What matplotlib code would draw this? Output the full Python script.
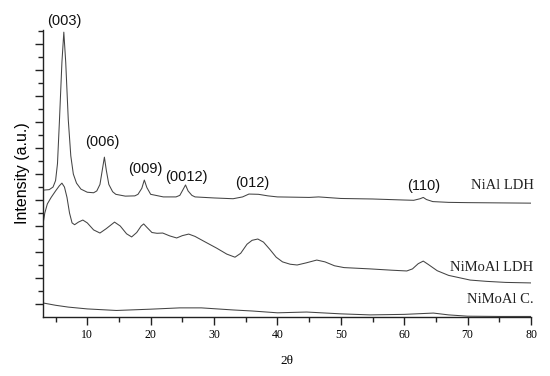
import matplotlib
matplotlib.use('Agg')
import matplotlib.pyplot as plt
from matplotlib.ticker import MultipleLocator

# 2theta / intensity (a.u.)
nial_x = [3.0, 4.0, 4.6, 5.0, 5.3, 5.6, 6.0, 6.3, 6.6, 7.0, 7.4, 7.8, 8.3, 9.0, 10.0, 11.0,
          11.5, 12.0, 12.4, 12.7, 13.0, 13.4, 14.0, 14.5, 16.0, 17.5, 18.0, 18.6, 19.0,
          19.4, 20.0, 22.0, 24.0, 24.6, 25.1, 25.5, 25.9, 26.5, 27.0, 30.0, 33.0, 34.5,
          35.5, 37.0, 38.5, 40.0, 45.0, 46.5, 50.0, 55.0, 60.0, 61.5, 62.5, 63.0, 63.5,
          64.5, 67.0, 70.0, 80.0]
nial_y = [4.88, 4.90, 5.0, 5.25, 5.9, 7.5, 9.8, 10.96, 9.8, 7.6, 6.2, 5.5, 5.15, 4.92, 4.8, 4.78,
          4.85, 5.1, 5.7, 6.15, 5.65, 5.1, 4.82, 4.72, 4.65, 4.66, 4.72, 4.95, 5.27,
          4.98, 4.72, 4.62, 4.62, 4.68, 4.9, 5.08, 4.85, 4.68, 4.62, 4.58, 4.55, 4.62,
          4.73, 4.72, 4.66, 4.62, 4.6, 4.62, 4.56, 4.54, 4.5, 4.49, 4.55, 4.6, 4.52,
          4.44, 4.41, 4.4, 4.38]

nimoal_x = [3.0, 3.3, 3.7, 4.3, 5.0, 5.6, 6.0, 6.4, 6.8, 7.2, 7.6, 8.0, 8.6, 9.3, 10.0,
            11.0, 12.0, 13.0, 14.3, 15.2, 16.2, 17.0, 17.8, 18.5, 18.9, 19.4, 20.2, 21.0,
            21.9, 23.0, 24.1, 25.0, 26.0, 27.0, 28.5, 30.4, 32.0, 33.3, 34.2, 35.2, 36.0,
            36.9, 37.8, 38.8, 39.8, 40.8, 42.0, 43.1, 44.5, 46.2, 47.5, 49.0, 50.5, 54.6,
            58.0, 60.4, 61.3, 62.2, 63.0, 63.8, 65.2, 67.0, 70.4, 73.0, 76.0, 80.0]
nimoal_y = [3.55, 4.0, 4.35, 4.6, 4.85, 5.05, 5.15, 5.0, 4.6, 4.0, 3.62, 3.55, 3.65, 3.73, 3.62,
            3.35, 3.23, 3.4, 3.65, 3.5, 3.2, 3.08, 3.25, 3.5, 3.58, 3.45, 3.25, 3.22,
            3.23, 3.12, 3.04, 3.13, 3.19, 3.1, 2.9, 2.65, 2.42, 2.3, 2.45, 2.8, 2.95,
            3.0, 2.88, 2.6, 2.3, 2.12, 2.03, 2.0, 2.08, 2.19, 2.12, 1.97, 1.9, 1.85,
            1.8, 1.77, 1.85, 2.05, 2.15, 2.02, 1.78, 1.6, 1.42, 1.37, 1.33, 1.31]

calc_x = [3.0, 5.0, 7.0, 10.0, 14.6, 20.0, 24.6, 28.0, 33.0, 36.0, 40.0, 44.6, 50.0,
          54.6, 60.0, 64.6, 67.0, 70.0, 75.0, 80.0]
calc_y = [0.54, 0.45, 0.38, 0.31, 0.25, 0.3, 0.35, 0.35, 0.27, 0.23, 0.16, 0.19, 0.12,
          0.08, 0.1, 0.15, 0.08, 0.03, 0.02, 0.02]

peak_labels = ['(003)', '(006)', '(009)', '(0012)', '(012)', '(110)']
peak_x = [6.3, 12.4, 19.2, 25.6, 36.0, 63.0]
peak_y = [11.38, 6.73, 5.69, 5.38, 5.15, 5.04]

curve_names = ['NiAl LDH', 'NiMoAl LDH', 'NiMoAl C.']
name_y = [5.04, 1.92, 0.69]

fig = plt.figure(figsize=(5.5, 3.76), dpi=100)
ax = fig.add_axes([0.078, 0.157, 0.8875, 0.763])

for xs, ys in [(nial_x, nial_y), (nimoal_x, nimoal_y), (calc_x, calc_y)]:
    ax.plot(xs, ys, color='#444444', lw=0.75)

for lab, x, y in zip(peak_labels, peak_x, peak_y):
    ax.text(x, y, lab, ha='center', va='center', fontsize=10.5,
            family='Liberation Sans', color='#111111')

for name, y in zip(curve_names, name_y):
    ax.text(80.4, y, name, ha='right', va='center', fontsize=10.5,
            family='Liberation Serif', color='#222222')

ax.set_xlim(3, 80)
ax.set_ylim(0, 11.04)
ax.spines['top'].set_visible(False)
ax.spines['right'].set_visible(False)
for s in ['left', 'bottom']:
    ax.spines[s].set_linewidth(1.0)
    ax.spines[s].set_color('#222222')

ax.xaxis.set_major_locator(MultipleLocator(10))
ax.xaxis.set_minor_locator(MultipleLocator(5))
ax.set_yticks([k + 0.5 for k in range(11)])
ax.set_yticks(list(range(1, 12)), minor=True)
ax.set_yticklabels([])
ax.tick_params(which='major', length=6, width=1.0, color='#222222')
ax.tick_params(which='minor', length=3.5, width=1.0, color='#222222')
ax.tick_params(axis='x', labelsize=8.5, pad=3)
for t in ax.get_xticklabels():
    t.set_family('Liberation Serif')

ax.set_xlabel('2θ', family='Liberation Serif', fontsize=9.5, labelpad=10)
ax.set_ylabel('Intensity (a.u.)', family='Liberation Sans', fontsize=11.5, labelpad=0)

fig.savefig('out.png', dpi=100)
